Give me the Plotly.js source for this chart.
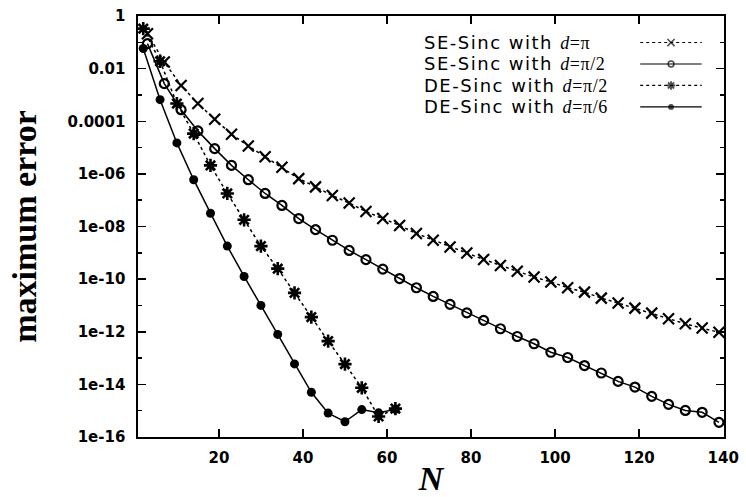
<!DOCTYPE html>
<html><head><meta charset="utf-8">
<script src="https://cdn.plot.ly/plotly-3.0.1.min.js"></script>
<style>html,body{margin:0;padding:0;background:#fff;} #chart{width:746px;height:497px;}</style>
</head><body><div id="chart"></div>
<script>
// ---- data ----
const nSE = [3,7,11,15,19,23,27,31,35,39,43,47,51,55,59,63,67,71,75,79,83,87,91,95,99,103,107,111,115,119,123,127,131,135,139];
const errSEpi = [2.1e-1,1.8e-2,2.3e-3,4.7e-4,1.2e-4,3.2e-5,1.15e-5,4.5e-6,1.8e-6,6.6e-7,3.2e-7,1.5e-7,7.8e-8,3.7e-8,2.0e-8,1.1e-8,5.4e-9,3.0e-9,1.66e-9,9.8e-10,5.6e-10,3.3e-10,2.0e-10,1.2e-10,7.8e-11,4.7e-11,3.2e-11,1.9e-11,1.23e-11,7.9e-12,5.1e-12,3.1e-12,2.0e-12,1.38e-12,9.5e-13];
const errSEhalf = [8.9e-2,2.7e-3,2.75e-4,4.3e-5,9.1e-6,2.1e-6,6.0e-7,1.8e-7,6.3e-8,2.0e-8,7.6e-9,3.0e-9,1.23e-9,5.5e-10,2.4e-10,1.05e-10,4.7e-11,2.2e-11,1.1e-11,5.2e-12,2.7e-12,1.3e-12,6.6e-13,3.5e-13,1.66e-13,1.05e-13,5.2e-14,2.7e-14,1.3e-14,7.9e-15,3.5e-15,1.74e-15,1.02e-15,8.7e-16,3.6e-16];
const nDE = [2,6,10,14,18,22,26,30,34,38,42,46,50,54,58,62];
const errDEhalf = [3.3e-1,1.9e-2,4.7e-4,3.4e-5,2.1e-6,1.8e-7,1.8e-8,1.8e-9,2.5e-10,3.0e-11,3.6e-12,4.4e-13,5.9e-14,7.4e-15,6.0e-16,1.2e-15];
const errDEsixth = [5.8e-2,6.6e-4,1.5e-5,6.0e-7,3.2e-8,1.8e-9,1.26e-10,1.0e-11,7.9e-13,6.0e-14,5.0e-15,8.1e-16,3.8e-16,1.1e-15,8.3e-16,1.12e-15];

const yTickVals = [1,1e-2,1e-4,1e-6,1e-8,1e-10,1e-12,1e-14,1e-16];
const yTickText = ["1","0.01","0.0001","1e-06","1e-08","1e-10","1e-12","1e-14","1e-16"];
const yMinorVals = [1e-1,1e-3,1e-5,1e-7,1e-9,1e-11,1e-13,1e-15];
const xTickVals = [20,40,60,80,100,120,140];

const seriesPrefix = ["SE-Sinc with ", "SE-Sinc with ", "DE-Sinc with ", "DE-Sinc with "];
const seriesD = ["π", "π/2", "π/2", "π/6"];

// ---- styles ----
const styles = [
  {dash:'3px,3px', symbol:'x-thin-open', size:11, mlw:2.2},
  {dash:'solid', symbol:'circle-open', size:9, mlw:2.2},
  {dash:'3px,3px', symbol:'asterisk-open', size:11, mlw:2.6},
  {dash:'solid', symbol:'circle', size:9, mlw:0}
];
const xs = [nSE, nSE, nDE, nDE];
const ys = [errSEpi, errSEhalf, errDEhalf, errDEsixth];

const traces = [];
for (let i = 0; i < 4; i++) {
  const s = styles[i];
  traces.push({
    x: xs[i], y: ys[i], type:'scatter', mode:'lines+markers', showlegend:false,
    name: seriesPrefix[i] + 'd=' + seriesD[i],
    line:{color:'#000', width:1.5, dash:s.dash},
    marker:{symbol:s.symbol, size:s.size, color:'#000', line:{color:'#000', width:s.mlw}}
  });
}

// ---- gnuplot-style key: text on the left, sample on the right ----
const keyRowsY = [0.937, 0.886, 0.835, 0.784];
const keySampleX = [0.857, 0.9096, 0.962];
const annotations = [];
for (let i = 0; i < 4; i++) {
  const s = styles[i];
  traces.push({
    x: keySampleX, y: [keyRowsY[i], keyRowsY[i], keyRowsY[i]], xaxis:'x2', yaxis:'y2',
    type:'scatter', mode:'lines+markers', showlegend:false, hoverinfo:'skip',
    line:{color:'#000', width:1.2, dash:s.dash},
    marker:{symbol:s.symbol, size:[0, s.size*0.65, 0], color:'#000', line:{color:'#000', width:s.mlw*0.7}}
  });
  annotations.push({
    xref:'paper', yref:'paper', x:0.4846, y:keyRowsY[i], xanchor:'left', yanchor:'middle',
    text: "<span style='letter-spacing:1.5px'>" + seriesPrefix[i] + "</span>" +
          "<span style='font-family:Liberation Serif;letter-spacing:0.6px'><i>d</i>=" + seriesD[i] + "</span>",
    showarrow:false,
    font:{family:'DejaVu Sans', size:18, color:'#000'}
  });
}

const axisCommon = {
  showgrid:false, zeroline:false, showline:true, mirror:'allticks',
  linecolor:'#000', linewidth:1.6, ticks:'inside', ticklen:8, tickwidth:1.5, tickcolor:'#000',
  tickfont:{family:'DejaVu Sans', size:15, color:'#000', weight:'bold'}
};

const layout = {
  width:746, height:497,
  margin:{l:138, r:22, t:16, b:60},
  paper_bgcolor:'#fff', plot_bgcolor:'#fff',
  showlegend:false,
  xaxis: Object.assign({}, axisCommon, {
    range:[0.75, 140.2], tickmode:'array', tickvals:xTickVals, ticklabelstandoff:6,
    title:{text:'<b><i>N</i></b>', font:{family:'Liberation Serif', size:34, color:'#000'}, standoff:2}
  }),
  yaxis: Object.assign({}, axisCommon, {
    type:'log', range:[-16, 0], tickmode:'array', tickvals:yTickVals, ticktext:yTickText,
    ticklabelstandoff:8,
    minor:{tickmode:'array', tickvals:yMinorVals, ticks:'inside', ticklen:4, tickwidth:1.5, tickcolor:'#000'},
    title:{text:'<b>maximum error</b>', font:{family:'Liberation Serif', size:34, color:'#000'}, standoff:20}
  }),
  xaxis2:{overlaying:'x', range:[0,1], visible:false, fixedrange:true},
  yaxis2:{overlaying:'y', range:[0,1], visible:false, fixedrange:true},
  annotations: annotations
};

Plotly.newPlot('chart', traces, layout, {staticPlot:true, displayModeBar:false});
</script>
</body></html>
